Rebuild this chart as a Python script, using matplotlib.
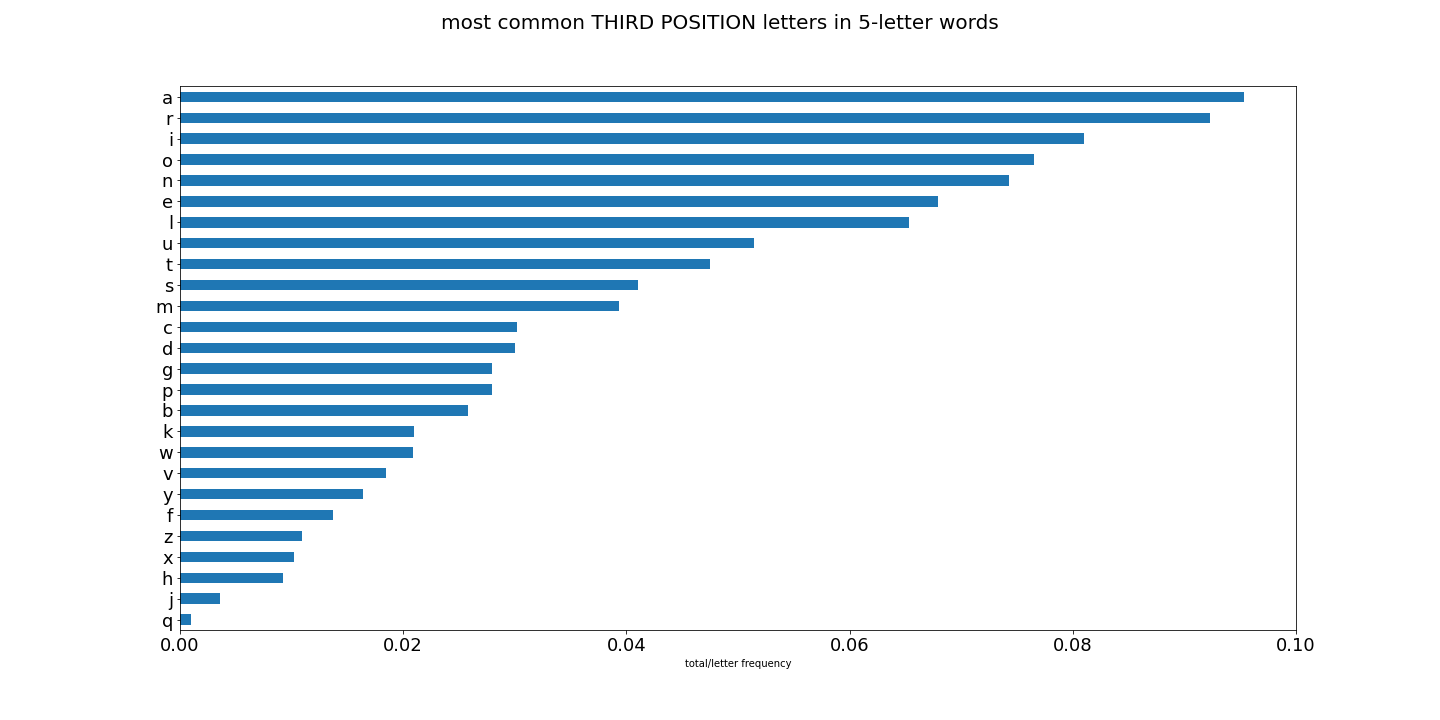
import pandas as pd
import matplotlib.pyplot as plt

# third-position letter frequencies
letters = ['a', 'r', 'i', 'o', 'n', 'e', 'l', 'u', 't', 's', 'm', 'c', 'd',
           'g', 'p', 'b', 'k', 'w', 'v', 'y', 'f', 'z', 'x', 'h', 'j', 'q']
freqs = [0.0953, 0.0923, 0.0810, 0.0765, 0.0743, 0.0679, 0.0653, 0.0514,
         0.0475, 0.0410, 0.0393, 0.0302, 0.0300, 0.0280, 0.0280, 0.0258,
         0.0210, 0.0209, 0.0185, 0.0164, 0.0137, 0.0109, 0.0102, 0.0092,
         0.0036, 0.0010]


def main():
    # reverse so the biggest letter sits on top of the barh plot
    s = pd.Series(freqs, index=letters)[::-1]
    fig = plt.figure(figsize=(20, 10), dpi=72)
    ax = fig.add_subplot(111)
    s.plot(kind='barh', ax=ax, fontsize=18)
    fig.subplots_adjust(left=0.125, right=0.9, bottom=0.125, top=0.88)
    ax.set_xlim(0, 0.1)
    ax.set_xlabel('total/letter frequency')
    fig.suptitle('most common THIRD POSITION letters in 5-letter words', fontsize=20)
    fig.savefig('out.png', dpi=72)


if __name__ == '__main__':
    main()
